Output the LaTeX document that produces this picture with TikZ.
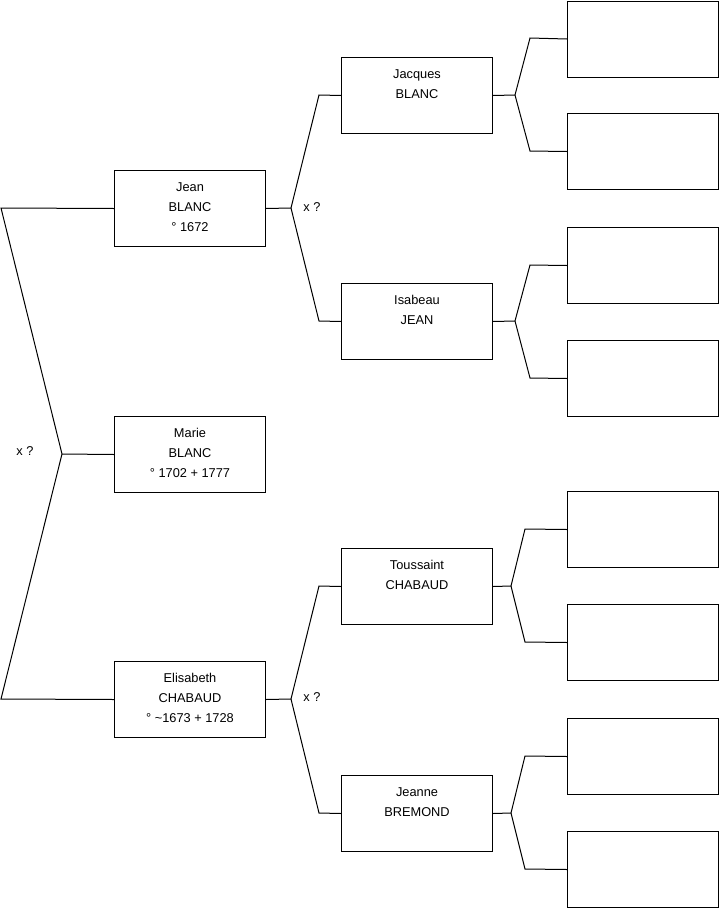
\documentclass[tikz,border=0pt]{standalone}
\usepackage{fontspec}
\setmainfont{Liberation Sans}
\usetikzlibrary{positioning}
\newcommand\fiche[1]{\begin{tabular}[t]{@{}c@{}}#1\end{tabular}}
\tikzset{
  pers/.style={draw,line width=1pt,anchor=north west,minimum width=151pt,minimum height=76pt,
    inner sep=0pt,text height=20.5pt,text depth=55.5pt,
    font=\fontsize{12.8}{20}\selectfont},
  vide/.style={pers},
  lien/.style={line width=1pt},
  mar/.style={font=\fontsize{12.8}{14}\selectfont,inner sep=1pt},
}

\begin{document}
\begin{tikzpicture}[x=1pt,y=-1pt]
  \useasboundingbox (0,0) rectangle (719,908);
  % personnes
  \node[pers] (marie) at (114,416) {\fiche{Marie\\BLANC\\° 1702 + 1777}};
  \node[pers] (jean) at (114,170) {\fiche{Jean\\BLANC\\° 1672}};
  \node[pers] (elis) at (114,661) {\fiche{Elisabeth\\CHABAUD\\° \textasciitilde1673 + 1728}};
  \node[pers] (jacq) at (341,57) {\fiche{Jacques\\BLANC}};
  \node[pers] (isab) at (341,283) {\fiche{Isabeau\\JEAN}};
  \node[pers] (tous) at (341,548) {\fiche{Toussaint\\CHABAUD}};
  \node[pers] (jean2) at (341,775) {\fiche{Jeanne\\BREMOND}};
  \foreach \y [count=\i] in {0.5,113,227,340,491,604,718,831}
    \node[vide] (v\i) at (567,\y) {};
  % parents de Marie
  \coordinate (g1) at (1,208);
  \coordinate (g2) at (1,699);
  \coordinate (gm) at (62,454);
  \draw[lien] (jean.west) -- (g1) -- (gm) -- (g2) -- (elis.west);
  \draw[lien] (gm) -- (marie.west);
  \node[mar] (m0) at (25,451) {x ?};
  % parents de Jean
  \coordinate (jf) at (291,208);
  \coordinate (jf1) at (319,95);
  \coordinate (jf2) at (319,321);
  \draw[lien] (jean.east) -- (jf) -- (jf1) -- (jacq.west);
  \draw[lien] (jf) -- (jf2) -- (isab.west);
  \node[mar] (m1) at (312,207) {x ?};
  % parents d'Elisabeth
  \coordinate (ef) at (291,699);
  \coordinate (ef1) at (319,586);
  \coordinate (ef2) at (319,813);
  \draw[lien] (elis.east) -- (ef) -- (ef1) -- (tous.west);
  \draw[lien] (ef) -- (ef2) -- (jean2.west);
  \node[mar] (m2) at (312,697) {x ?};
  % generation suivante
  \coordinate (qf) at (515,95);
  \coordinate (qf1) at (530,38);
  \coordinate (qf2) at (530,151);
  \draw[lien] (jacq.east) -- (qf) -- (qf1) -- (v1.west);
  \draw[lien] (qf) -- (qf2) -- (v2.west);
  \coordinate (if) at (515,321);
  \coordinate (if1) at (530,265);
  \coordinate (if2) at (530,378);
  \draw[lien] (isab.east) -- (if) -- (if1) -- (v3.west);
  \draw[lien] (if) -- (if2) -- (v4.west);
  \coordinate (tf) at (511,586);
  \coordinate (tf1) at (525,529);
  \coordinate (tf2) at (525,642);
  \draw[lien] (tous.east) -- (tf) -- (tf1) -- (v5.west);
  \draw[lien] (tf) -- (tf2) -- (v6.west);
  \coordinate (bf) at (511,813);
  \coordinate (bf1) at (525,756);
  \coordinate (bf2) at (525,869);
  \draw[lien] (jean2.east) -- (bf) -- (bf1) -- (v7.west);
  \draw[lien] (bf) -- (bf2) -- (v8.west);
\end{tikzpicture}
\end{document}
